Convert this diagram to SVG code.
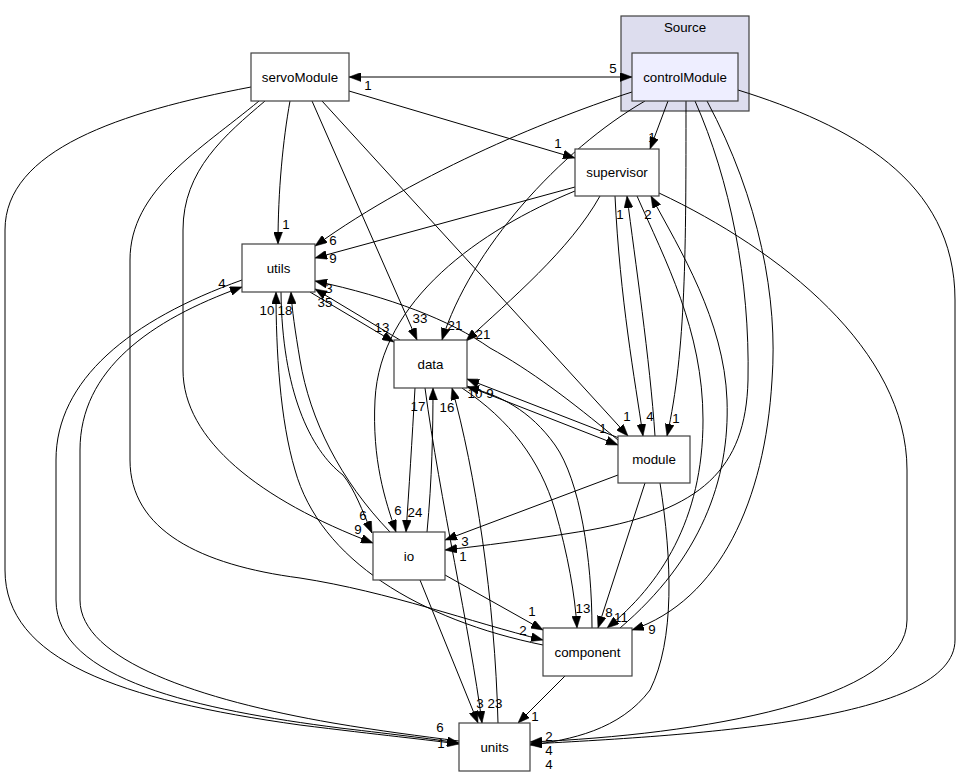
<svg xmlns="http://www.w3.org/2000/svg" width="963" height="777" viewBox="0 0 963 777">
<style>
text{font-family:"Liberation Sans",Arial,Helvetica,sans-serif;font-size:13.33px;fill:#000}
.nl{text-anchor:middle}
.n rect{fill:#fff;stroke:#404040;stroke-width:1.2}
.e path{fill:none;stroke:#000;stroke-width:1;marker-end:url(#a)}
.lb text{text-anchor:middle}
</style>
<defs>
<marker id="a" markerUnits="userSpaceOnUse" viewBox="0 0 12 9" markerWidth="12" markerHeight="9" refX="12" refY="4.5" orient="auto-start-reverse">
<path d="M0,0 L12,4.5 L0,9 z" fill="#000" stroke="#000" stroke-width="0.5"/>
</marker>
</defs>
<rect width="963" height="777" fill="#fff"/>
<g id="cluster_Source">
<rect x="621" y="16" width="128" height="95" fill="#ddddee" stroke="#404040" stroke-width="1.2"/>
<text class="nl" x="685" y="32">Source</text>
</g>
<g class="e" id="connectors">
<path d="M349,77 L632,77" style="marker-start:url(#a)"/>
<path d="M349,91 L575,158"/>
<path d="M290,101 C283,140 278,190 278,244"/>
<path d="M312,101 L417,340"/>
<path d="M322,101 L628,436"/>
<path d="M265,101 C225,135 183,170 183,230 L183,370 C183,440 260,500 373,543"/>
<path d="M259,101 C200,150 130,190 130,260 L130,460 C130,530 200,565 300,578 C390,592 470,622 543,640"/>
<path d="M251,87 C120,112 5,150 5,230 L5,570 C5,660 120,700 300,725 C380,735 430,740 459,744"/>
<path d="M668,101 L650,149"/>
<path d="M632,92 C560,115 420,170 315,246"/>
<path d="M645,101 C560,150 470,250 442,340"/>
<path d="M686,101 C686,250 686,350 667,436"/>
<path d="M695,101 C730,180 750,280 748,380 C746,470 700,510 590,530 C530,540 480,546 445,550"/>
<path d="M707,101 C760,200 778,300 772,380 C765,500 720,600 632,630"/>
<path d="M738,90 C850,125 955,180 955,300 L955,640 C955,720 700,735 530,744"/>
<path d="M575,187 L315,258"/>
<path d="M600,196 C570,250 510,300 466,341"/>
<path d="M575,191 C480,230 380,300 375,400 C372,460 385,500 396,532"/>
<path d="M615,196 C620,300 635,380 643,436"/>
<path d="M637,196 C665,260 703,330 703,420 C703,520 660,585 607,628"/>
<path d="M659,193 C780,250 907,350 907,470 L907,620 C907,700 700,735 530,742"/>
<path d="M310,292 L394,342"/>
<path d="M281,292 C282,390 310,450 343,475 C355,490 362,510 372,533"/>
<path d="M242,280 C130,320 56,380 56,460 L56,600 C56,680 200,710 340,728 C400,735 440,740 459,743"/>
<path d="M400,340 L315,289"/>
<path d="M467,386 L618,445"/>
<path d="M415,388 C412,440 409,490 406,532"/>
<path d="M462,388 C510,420 540,460 555,510 C568,555 575,595 577,628"/>
<path d="M425,388 C440,500 470,630 482,723"/>
<path d="M618,440 C570,400 530,370 490,348 C450,320 390,297 315,281"/>
<path d="M655,436 C650,360 635,260 627,196"/>
<path d="M619,438 L467,379"/>
<path d="M618,475 L445,540"/>
<path d="M645,483 L598,628"/>
<path d="M660,483 C672,560 675,640 650,690 C620,730 570,740 530,745"/>
<path d="M390,532 C340,480 310,420 300,360 C295,330 292,310 291,292"/>
<path d="M427,532 C432,480 433,430 433,388"/>
<path d="M445,575 L543,630"/>
<path d="M420,580 L478,723"/>
<path d="M543,645 C420,620 320,560 295,470 C280,420 276,350 276,292"/>
<path d="M620,628 C700,560 730,480 727,400 C724,320 680,250 651,196"/>
<path d="M592,628 C592,560 580,480 555,445 C530,410 500,395 467,387"/>
<path d="M565,676 L518,723"/>
<path d="M459,741 C420,736 380,731 333,723 C200,700 80,660 80,600 L80,450 C80,370 150,320 242,287"/>
<path d="M498,723 C495,600 475,470 452,388"/>
</g>
<g class="lb" id="edge-labels">
<text x="368" y="90">1</text>
<text x="613" y="73">5</text>
<text x="558" y="148">1</text>
<text x="286" y="229">1</text>
<text x="420" y="323">33</text>
<text x="627" y="421">1</text>
<text x="358" y="534">9</text>
<text x="523" y="635">2</text>
<text x="440" y="732">6</text>
<text x="441" y="748">1</text>
<text x="652" y="142">1</text>
<text x="333" y="245">6</text>
<text x="455" y="330">21</text>
<text x="676" y="423">1</text>
<text x="463" y="561">1</text>
<text x="652" y="634">9</text>
<text x="549" y="741">2</text>
<text x="549" y="755">4</text>
<text x="549" y="769">4</text>
<text x="333" y="263">9</text>
<text x="483" y="339">21</text>
<text x="398" y="515">6</text>
<text x="650" y="421">4</text>
<text x="621" y="622">11</text>
<text x="382" y="332">13</text>
<text x="363" y="520">6</text>
<text x="325" y="307">35</text>
<text x="603" y="433">1</text>
<text x="415" y="517">24</text>
<text x="583" y="613">13</text>
<text x="495" y="708">23</text>
<text x="480" y="708">3</text>
<text x="329" y="293">3</text>
<text x="620" y="219">1</text>
<text x="475" y="398">10</text>
<text x="490" y="398">9</text>
<text x="465" y="546">3</text>
<text x="609" y="617">8</text>
<text x="285" y="315">18</text>
<text x="418" y="411">17</text>
<text x="532" y="616">1</text>
<text x="267" y="315">10</text>
<text x="648" y="219">2</text>
<text x="535" y="721">1</text>
<text x="222" y="288">4</text>
<text x="447" y="412">16</text>
</g>
<g class="n" id="servoModule"><rect x="251" y="53" width="98" height="48"/><text class="nl" x="300" y="82">servoModule</text></g>
<g class="n" id="controlModule"><rect x="632" y="53" width="106" height="48" style="fill:#eeeeff"/><text class="nl" x="685" y="82">controlModule</text></g>
<g class="n" id="supervisor"><rect x="575" y="149" width="84" height="47"/><text class="nl" x="617" y="177">supervisor</text></g>
<g class="n" id="utils"><rect x="242" y="244" width="73" height="48"/><text class="nl" x="278.5" y="273">utils</text></g>
<g class="n" id="data"><rect x="394" y="340" width="73" height="48"/><text class="nl" x="430.5" y="369">data</text></g>
<g class="n" id="module"><rect x="618" y="436" width="72" height="47"/><text class="nl" x="654" y="464">module</text></g>
<g class="n" id="io"><rect x="373" y="532" width="72" height="48"/><text class="nl" x="409" y="561">io</text></g>
<g class="n" id="component"><rect x="543" y="628" width="89" height="48"/><text class="nl" x="587.5" y="657">component</text></g>
<g class="n" id="units"><rect x="459" y="723" width="71" height="48"/><text class="nl" x="494.5" y="752">units</text></g>
</svg>
